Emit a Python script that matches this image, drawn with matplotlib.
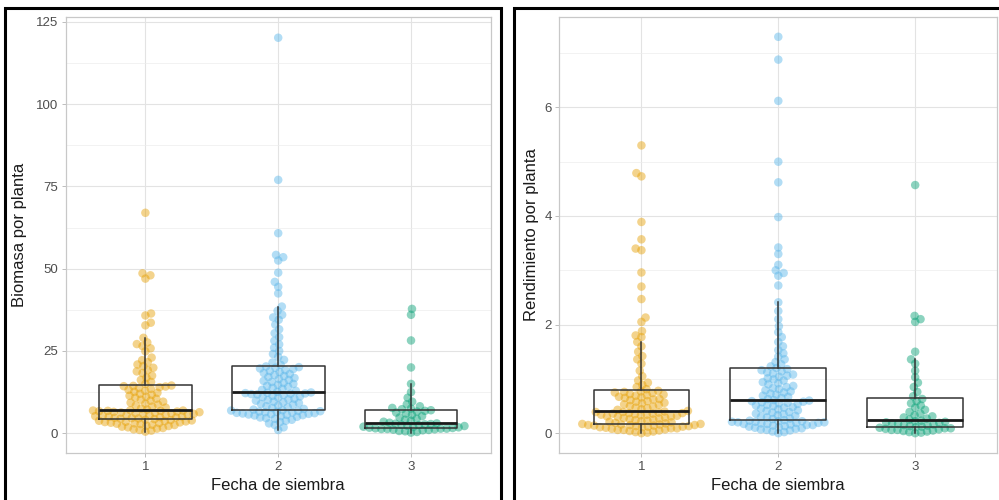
"""Biomasa y rendimiento por planta segun fecha de siembra (beeswarm + boxplot)."""
import numpy as np
import matplotlib.pyplot as plt
from matplotlib.patches import Rectangle

plt.rcParams["font.family"] = ["Liberation Sans", "DejaVu Sans"]

fechas = ["1", "2", "3"]
colores = ["#E69F00", "#56B4E9", "#009E73"]

# Biomasa por planta, one list per sowing date
biomasa_1 = [0.5, 0.8, 1.0, 1.2, 1.4, 1.6, 1.8, 2.0, 2.2, 2.3, 2.5, 2.6, 2.8, 2.9, 3.0, 3.1, 3.2,
             3.3, 3.4, 3.5, 3.6, 3.7, 3.8, 3.9, 4.0, 4.1, 4.3, 4.4,
             4.5, 4.6, 4.7, 4.8, 4.9, 5.0, 5.1, 5.2, 5.3, 5.4, 5.5, 5.6, 5.7, 5.8, 5.9, 6.0, 6.1,
             6.2, 6.3, 6.4, 6.5, 6.6, 6.7, 6.8, 6.8, 6.9, 6.9, 7.0,
             7.2, 7.5, 7.8, 8.1, 8.4, 8.7, 9.0, 9.3, 9.6, 9.9, 10.2, 10.5, 10.8, 11.1, 11.4, 11.7,
             12.0, 12.3, 12.6, 12.9, 13.2, 13.5, 13.8, 14.0, 14.2, 14.3, 14.4, 14.5,
             15.0, 15.6, 16.2, 16.9, 17.5, 18.3, 18.8, 19.2, 19.9, 20.4, 20.9, 21.6, 22.2, 23.0,
             24.9, 25.8, 26.5, 27.1, 27.6, 29.0, 32.8, 33.6, 35.8, 36.4, 47.0, 48.0, 48.6, 67.0]
biomasa_2 = [1.0, 1.8, 2.5, 3.0, 3.4, 3.8, 4.1, 4.4, 4.6, 4.8, 5.0, 5.2, 5.4, 5.5, 5.6, 5.7, 5.8,
             5.9, 6.0, 6.1, 6.2, 6.3, 6.4, 6.5, 6.6, 6.7, 6.8, 6.9,
             7.0, 7.2, 7.4, 7.7, 7.9, 8.2, 8.4, 8.7, 8.9, 9.2, 9.4, 9.6, 9.9, 10.1, 10.3, 10.5,
             10.8, 11.0, 11.2, 11.4, 11.6, 11.8, 11.9, 12.0, 12.1, 12.2, 12.3, 12.4,
             12.6, 12.9, 13.2, 13.5, 13.8, 14.1, 14.4, 14.7, 15.0, 15.3, 15.6, 15.9, 16.2, 16.5,
             16.8, 17.1, 17.4, 17.7, 18.0, 18.3, 18.6, 18.9, 19.2, 19.5, 19.7, 19.9, 20.1, 20.3,
             20.8, 21.5, 22.3, 23.2, 24.1, 25.0, 26.0, 27.0, 28.1, 29.2, 30.4, 31.6, 33.0, 34.5,
             35.2, 36.0, 37.2, 38.5, 42.5, 44.5, 46.0, 48.8, 52.5, 53.5, 54.2, 60.8, 77.0, 120.2]
biomasa_3 = [0.2, 0.4, 0.6, 0.7, 0.9, 1.0, 1.1, 1.2, 1.3, 1.3, 1.4, 1.4, 1.5,
             1.6, 1.7, 1.8, 1.9, 2.0, 2.2, 2.3, 2.5, 2.6, 2.7, 2.8, 2.9, 3.0,
             3.2, 3.5, 3.8, 4.1, 4.4, 4.8, 5.2, 5.6, 6.0, 6.3, 6.6, 6.8, 7.0,
             7.3, 7.5, 7.7, 8.2, 8.8, 9.6, 10.8, 12.5, 15.0, 20.0, 28.2, 36.0, 37.8]

# Rendimiento por planta
rend_1 = [0.00, 0.01, 0.02, 0.03, 0.04, 0.05, 0.06, 0.06, 0.07, 0.08, 0.09, 0.09, 0.10, 0.11,
          0.11, 0.12, 0.12, 0.13, 0.13, 0.14, 0.14, 0.15, 0.15, 0.15, 0.16, 0.16, 0.17, 0.17,
          0.18, 0.19, 0.20, 0.21, 0.22, 0.23, 0.24, 0.25, 0.26, 0.27, 0.28, 0.29, 0.30, 0.31,
          0.31, 0.32, 0.33, 0.34, 0.34, 0.35, 0.36, 0.36, 0.37, 0.37, 0.38, 0.39, 0.39, 0.40,
          0.41, 0.43, 0.44, 0.46, 0.47, 0.49, 0.50, 0.52, 0.53, 0.55, 0.56, 0.58, 0.59, 0.61,
          0.62, 0.63, 0.65, 0.66, 0.67, 0.69, 0.70, 0.71, 0.72, 0.74, 0.75, 0.76, 0.77, 0.78,
          0.81, 0.85, 0.89, 0.93, 0.97, 1.05, 1.15, 1.28, 1.36, 1.42, 1.50, 1.60, 1.68, 1.77,
          1.80, 1.88, 2.05, 2.13, 2.47, 2.70, 2.96, 3.37, 3.40, 3.57, 3.89, 4.73, 4.79, 5.30]
rend_2 = [0.00, 0.02, 0.03, 0.05, 0.06, 0.07, 0.08, 0.09, 0.10, 0.11, 0.12, 0.13, 0.14, 0.15,
          0.15, 0.16, 0.17, 0.17, 0.18, 0.19, 0.19, 0.20, 0.20, 0.21, 0.21, 0.22, 0.22, 0.23,
          0.24, 0.26, 0.27, 0.29, 0.30, 0.32, 0.33, 0.35, 0.36, 0.38, 0.39, 0.41, 0.42, 0.44,
          0.45, 0.47, 0.48, 0.50, 0.51, 0.52, 0.54, 0.55, 0.56, 0.57, 0.58, 0.59, 0.60, 0.61,
          0.63, 0.65, 0.67, 0.69, 0.71, 0.73, 0.75, 0.77, 0.79, 0.81, 0.83, 0.85, 0.87, 0.90,
          0.92, 0.94, 0.97, 0.99, 1.01, 1.04, 1.06, 1.08, 1.10, 1.12, 1.14, 1.16, 1.18, 1.20,
          1.23, 1.27, 1.31, 1.36, 1.41, 1.47, 1.53, 1.60, 1.68, 1.77, 1.86, 1.97, 2.10, 2.25,
          2.41, 2.72, 2.90, 2.95, 3.00, 3.10, 3.30, 3.42, 3.98, 4.62, 5.00, 6.12, 6.88, 7.30]
rend_3 = [0.00, 0.01, 0.02, 0.03, 0.04, 0.05, 0.06, 0.06, 0.07, 0.08, 0.09, 0.09, 0.10,
          0.11, 0.12, 0.13, 0.14, 0.15, 0.16, 0.17, 0.18, 0.19, 0.20, 0.21, 0.22, 0.23,
          0.25, 0.27, 0.29, 0.31, 0.33, 0.36, 0.39, 0.43, 0.47, 0.51, 0.55, 0.59, 0.63,
          0.68, 0.76, 0.85, 0.93, 1.03, 1.15, 1.28, 1.36, 1.50, 2.05, 2.10, 2.16, 4.57]

PT_DIAM = 8.5      # marker diameter, px
SPACING = 6.0      # swarm spacing, px (points overlap a little, as in the original)


def swarm(ax, y, spacing):
    """ggbeeswarm-like 'swarm' offsets, returned in x data units."""
    ypx = ax.transData.transform(np.column_stack([np.zeros(len(y)), y]))[:, 1]
    x0 = ax.transData.transform([[0, 0], [1, 0]])
    px_per_unit = x0[1, 0] - x0[0, 0]
    xs = np.zeros(len(y))
    placed = []
    for k, i in enumerate(np.argsort(ypx, kind="stable")):
        yi = ypx[i]
        cands = [0.0]
        for px, py in placed:
            dy = yi - py
            if abs(dy) < spacing:
                dx = np.sqrt(spacing ** 2 - dy ** 2)
                cands += [px + dx, px - dx]
        cands.sort(key=lambda c: (round(abs(c), 6), -c if k % 2 else c))
        for c in cands:
            if all((c - px) ** 2 + (yi - py) ** 2 >= spacing ** 2 - 1e-6 for px, py in placed):
                xs[i] = c
                break
        placed.append((xs[i], yi))
    return xs / px_per_unit


def panel(ax, grupos, ylim, yticks, yminor, ylabel, ylab_x):
    ax.set_xlim(0.4, 3.6)
    ax.set_ylim(*ylim)
    ax.set_yticks(yticks)
    ax.set_yticks(yminor, minor=True)
    ax.tick_params(which="major", length=3, width=0.6, color="#B3B3B3", labelcolor="#4D4D4D",
                   labelsize=9.5, pad=2.5)
    ax.tick_params(which="minor", length=0)
    ax.grid(which="major", color="#E3E3E3", lw=0.8)
    ax.grid(which="minor", color="#EDEDED", lw=0.5)
    ax.set_axisbelow(True)
    for s in ax.spines.values():
        s.set_color("#C8C8C8")
        s.set_linewidth(0.9)

    for i, (vals, col) in enumerate(zip(grupos, colores)):
        v = np.array(vals)
        off = swarm(ax, v, SPACING)
        ax.scatter(i + 1 + off, v, s=(PT_DIAM * 0.72) ** 2, color=col, alpha=0.45,
                   edgecolors="none", zorder=2)

    ax.boxplot(grupos, positions=[1, 2, 3], widths=0.7, showfliers=False,
               patch_artist=False, zorder=3,
               boxprops=dict(color="#333333", lw=1.1),
               whiskerprops=dict(color="#333333", lw=1.1),
               capprops=dict(linewidth=0),
               medianprops=dict(color="#1A1A1A", lw=2.0))
    ax.set_xticks([1, 2, 3])
    ax.set_xticklabels(fechas)
    ax.set_xlabel("Fecha de siembra", fontsize=12, color="#1A1A1A")
    ax.set_ylabel(ylabel, fontsize=12, color="#1A1A1A")
    ax.xaxis.set_label_coords(0.5, -0.057)
    ax.yaxis.set_label_coords(ylab_x, 0.5)


W, H = 999, 500
fig = plt.figure(figsize=(W / 100, H / 100), dpi=100)

ax1 = fig.add_axes([65.7 / W, 1 - 453 / H, 425 / W, 436 / H])
ax2 = fig.add_axes([559.3 / W, 1 - 453 / H, 438 / W, 436 / H])

panel(ax1, [biomasa_1, biomasa_2, biomasa_3], (-6.0, 126.5), [0, 25, 50, 75, 100, 125],
      [12.5, 37.5, 62.5, 87.5, 112.5], "Biomasa por planta", -0.090)
panel(ax2, [rend_1, rend_2, rend_3], (-0.365, 7.665), [0, 2, 4, 6], [1, 3, 5, 7],
      "Rendimiento por planta", -0.046)

# black frames around each panel image
for x0, x1 in [(5, 501), (514, 1010)]:
    fig.add_artist(Rectangle((x0 / W, -0.1), (x1 - x0) / W, 1.1 - 8 / H, transform=fig.transFigure,
                             fill=False, edgecolor="black", lw=2.2, zorder=10))

fig.savefig("out.png", dpi=100)
